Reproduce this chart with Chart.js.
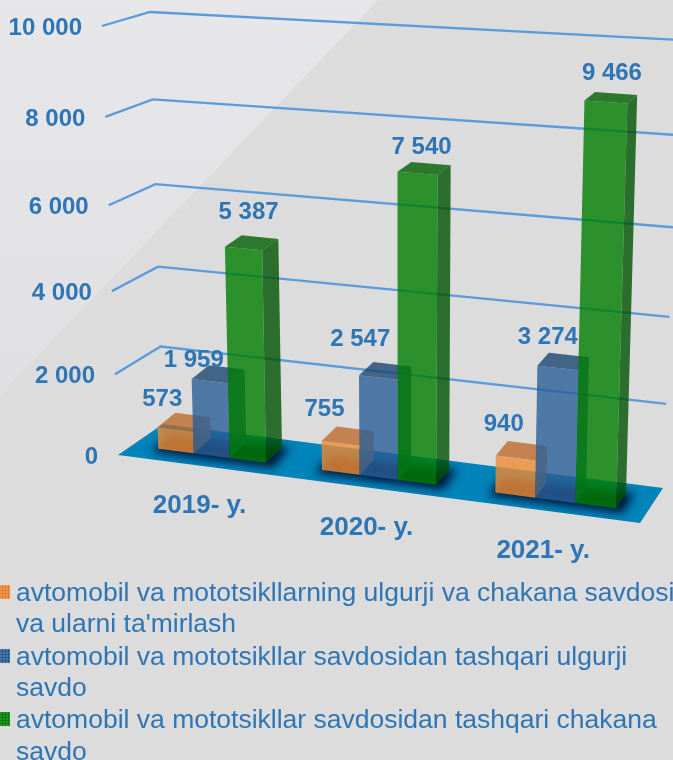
<!DOCTYPE html>
<html><head><meta charset="utf-8">
<style>html,body{margin:0;padding:0;background:#dcdcdc;overflow:hidden}canvas{display:block}</style>
<script src="https://cdn.jsdelivr.net/npm/chart.js@4"></script>
</head><body><canvas id="c" width="673" height="760"></canvas>
<script>
const categories = ["2019- y.", "2020- y.", "2021- y."];
const repairSales = [573, 755, 940];
const wholesale = [1959, 2547, 3274];
const retail = [5387, 7540, 9466];
const repairLegend = ["avtomobil va mototsikllarning ulgurji va chakana savdosi", "va ularni ta'mirlash"];
const wholesaleLegend = ["avtomobil va mototsikllar savdosidan tashqari ulgurji", "savdo"];
const retailLegend = ["avtomobil va mototsikllar savdosidan tashqari chakana", "savdo"];
const yTicks = [0, 2000, 4000, 6000, 8000, 10000];

const BLUE_TEXT = "#2e75b6";
const WARP = 0.075;

// perspective helpers: scale pixels -> picture
const bendX = s => 378.5 + 0.937 * (s - 375) + 0.000144 * (s - 375) * (s - 375);
const floorY = x => 458 + 0.13 * (x - 230);
const barScale = x => 405 + (x - 210) * 0.06;
const project = (s, vv) => {
  const x0 = bendX(s), h = barScale(x0) * vv;
  return [x0 + h * (x0 - 400) * 0.00013, floorY(x0) - h];
};
const deepen = (p, vv) => [p[0] + 20.5 - 0.017 * p[0], p[1] - (15 - 7 * vv)];
const mix = (a, b, t) => a + (b - a) * t;
const wallFront = vv => [mix(118, 102, vv), mix(455, 26, vv)];
const wallBackL = vv => [mix(163, 150, vv), mix(424, 12, vv)];
const wallBackR = vv => [mix(663, 680, vv), mix(488, 40, vv)];

class WarpLinear extends Chart.LinearScale {
  static id = "warpLinear";
  static defaults = Chart.LinearScale.defaults;
  getPixelForValue(v) {
    if (v === null) return NaN;
    const d = (v - this._startValue) / this._valueRange;
    return this.getPixelForDecimal(d - WARP * d * (1 - d));
  }
  _computeLabelItems(area) {
    const items = super._computeLabelItems(area);
    items.forEach(it => {
      const vv = (this.bottom - it.options.translation[1]) / (this.bottom - this.top);
      it.options.translation[0] = wallFront(vv)[0] - 20;
      it.options.translation[1] += 1;
    });
    return items;
  }
}
class ProjectedCategory extends Chart.CategoryScale {
  static id = "projectedCategory";
  static defaults = Chart.CategoryScale.defaults;
  _computeLabelItems(area) {
    const items = super._computeLabelItems(area);
    items.forEach(it => {
      const s = it.options.translation[0];
      const lx = bendX(s) - 12;
      it.options.translation = [lx, floorY(lx) + 52];
      it.options.textBaseline = "middle";
      it.options.textAlign = "center";
      it.textOffset = 0;
    });
    return items;
  }
}
Chart.register(WarpLinear, ProjectedCategory);

const FACES = {
  "rgba(237,139,51,0.8)": { side: "rgba(205,115,50,0.8)", top: "rgba(189,107,45,0.8)" },
  "rgba(43,95,151,0.8)": { side: "rgba(30,75,120,0.8)", top: "rgba(26,70,114,0.8)" },
  "rgba(0,126,1,0.8)": { side: "rgba(0,82,1,0.8)", top: "rgba(0,95,1,0.8)" }
};
const poly = (ctx, pts, fill) => {
  ctx.beginPath();
  pts.forEach((p, i) => i ? ctx.lineTo(p[0], p[1]) : ctx.moveTo(p[0], p[1]));
  ctx.closePath();
  ctx.fillStyle = fill;
  ctx.fill();
};
Chart.BarElement.prototype.draw = function (ctx) {
  const { x, y, base, width } = this.getProps(["x", "y", "base", "width"], true);
  const vv = (base - y) / (base - 27);
  const l = x - width / 2, r = x + width / 2;
  const bl = project(l, 0), br = project(r, 0), tl = project(l, vv), tr = project(r, vv);
  const bbr = deepen(br, 0), tbr = deepen(tr, vv), tbl = deepen(tl, vv);
  const f = FACES[this.options.backgroundColor];
  ctx.save();
  poly(ctx, [br, tr, tbr, bbr], f.side);
  poly(ctx, [tl, tr, tbr, tbl], f.top);
  poly(ctx, [bl, br, tr, tl], this.options.backgroundColor);
  ctx.restore();
};

const labelNudge = [[[-13, -28], [-16, -32], [-12, -31]], [[-16, -19], [-18, -36], [-10, -28]], [[5, -34], [4, -24], [6, -27]]];
const fmt = v => String(v).replace(/\B(?=(\d{3})+$)/g, " ");
const legendRows = [
  { lines: repairLegend, color: "#f09a50", grid: "#e07f30", base: [601, 632] },
  { lines: wholesaleLegend, color: "#4d79a8", grid: "#2e5c8f", base: [665, 696] },
  { lines: retailLegend, color: "#1f9a1f", grid: "#0b7a0b", base: [728, 760] }
];

const scene = {
  id: "scene",
  beforeDraw(chart) {
    const ctx = chart.ctx;
    ctx.save();
    ctx.fillStyle = "#dcdcdc";
    ctx.fillRect(0, 0, 673, 760);
    const g = ctx.createLinearGradient(0, 0, 0, 390);
    g.addColorStop(0, "#e7e7ea");
    g.addColorStop(1, "#e0e0e2");
    poly(ctx, [[0, 0], [378, 0], [0, 395]], g);
    ctx.restore();
  },
  beforeDatasetsDraw(chart) {
    const ctx = chart.ctx, ys = chart.scales.y;
    ctx.save();
    // floor
    const floor = [wallFront(0), [640, 523], wallBackR(0), wallBackL(0)];
    poly(ctx, floor, "#0084b9");
    // soft shadows around the bar bases
    ctx.save();
    ctx.beginPath();
    floor.forEach((p, i) => i ? ctx.lineTo(p[0], p[1]) : ctx.moveTo(p[0], p[1]));
    ctx.closePath();
    ctx.clip();
    const m0 = chart.getDatasetMeta(0).data, m2 = chart.getDatasetMeta(2).data;
    ctx.filter = "blur(5px)";
    categories.forEach((_, i) => {
      const a = project(m0[i].x - m0[i].width / 2, 0), b = project(m2[i].x + m2[i].width / 2, 0);
      const db = deepen(b, 0), da = deepen(a, 0);
      const fp = [[a[0] - 7, a[1] + 3], [b[0] + 7, b[1] + 5], [db[0] + 8, db[1]], [da[0] - 6, da[1]]];
      poly(ctx, fp, "#00143a");
    });
    ctx.filter = "none";
    ctx.restore();
    // walls
    ctx.strokeStyle = "#5a9bdc";
    ctx.lineWidth = 2.3;
    yTicks.slice(1).forEach(t => {
      const vv = (ys.bottom - ys.getPixelForValue(t)) / (ys.bottom - ys.top);
      const a = wallFront(vv), b = wallBackL(vv), c = wallBackR(vv);
      ctx.beginPath();
      ctx.moveTo(a[0], a[1]); ctx.lineTo(b[0], b[1]); ctx.lineTo(c[0], c[1]);
      ctx.stroke();
    });
    ctx.restore();
    // bars: back to front, left series first
    [0, 1, 2].forEach(i => chart.getDatasetMeta(i).controller.draw());
    return false;
  },
  afterDraw(chart) {
    const ctx = chart.ctx;
    ctx.save();
    ctx.fillStyle = BLUE_TEXT;
    ctx.font = "bold 24px 'Liberation Sans'";
    ctx.textAlign = "center";
    ctx.textBaseline = "middle";
    chart.data.datasets.forEach((ds, d) => {
      chart.getDatasetMeta(d).data.forEach((el, i) => {
        const vv = (el.base - el.y) / (el.base - 27);
        const a = project(el.x - el.width / 2, vv), b = project(el.x + el.width / 2, vv);
        const n = labelNudge[d][i];
        ctx.fillText(fmt(ds.data[i]), (a[0] + b[0]) / 2 + n[0], a[1] + n[1]);
      });
    });
    ctx.textAlign = "left";
    ctx.textBaseline = "alphabetic";
    ctx.font = "26.5px 'Liberation Sans'";
    legendRows.forEach(row => {
      row.lines.forEach((t, i) => ctx.fillText(t, 16, row.base[i]));
      const y0 = row.base[0] - 16;
      ctx.save();
      ctx.fillStyle = row.color;
      ctx.fillRect(0, y0, 10, 14);
      ctx.fillStyle = row.grid;
      for (let k = 2; k < 10; k += 3) ctx.fillRect(k, y0, 1, 14);
      for (let k = 2; k < 14; k += 3) ctx.fillRect(0, y0 + k, 10, 1);
      ctx.restore();
    });
    ctx.restore();
  }
};

new Chart(document.getElementById("c"), {
  type: "bar",
  data: {
    labels: categories,
    datasets: [
      { label: repairLegend.join(" "), data: repairSales, backgroundColor: "rgba(237,139,51,0.8)" },
      { label: wholesaleLegend.join(" "), data: wholesale, backgroundColor: "rgba(43,95,151,0.8)" },
      { label: retailLegend.join(" "), data: retail, backgroundColor: "rgba(0,126,1,0.8)" }
    ]
  },
  options: {
    responsive: false,
    animation: false,
    events: [],
    layout: { padding: { top: 27, right: 23, left: 0, bottom: 0 } },
    datasets: { bar: { categoryPercentage: 0.665, barPercentage: 1, borderWidth: 0 } },
    plugins: { legend: { display: false }, tooltip: { enabled: false }, title: { display: false } },
    scales: {
      x: {
        type: "projectedCategory",
        afterFit(s) { s.height = 304; },
        grid: { display: false, drawTicks: false },
        border: { display: false },
        ticks: { color: BLUE_TEXT, font: { family: "'Liberation Sans'", size: 26, weight: "bold" }, maxRotation: 0, minRotation: 0, autoSkip: false }
      },
      y: {
        type: "warpLinear",
        min: 0, max: 10000,
        afterFit(s) { s.width = 100; },
        grid: { display: false, drawTicks: false },
        border: { display: false },
        afterBuildTicks(s) { s.ticks = yTicks.map(value => ({ value })); },
        ticks: { color: BLUE_TEXT, font: { family: "'Liberation Sans'", size: 24, weight: "bold" }, autoSkip: false, callback: v => fmt(v) }
      }
    }
  },
  plugins: [scene]
});
</script></body></html>
